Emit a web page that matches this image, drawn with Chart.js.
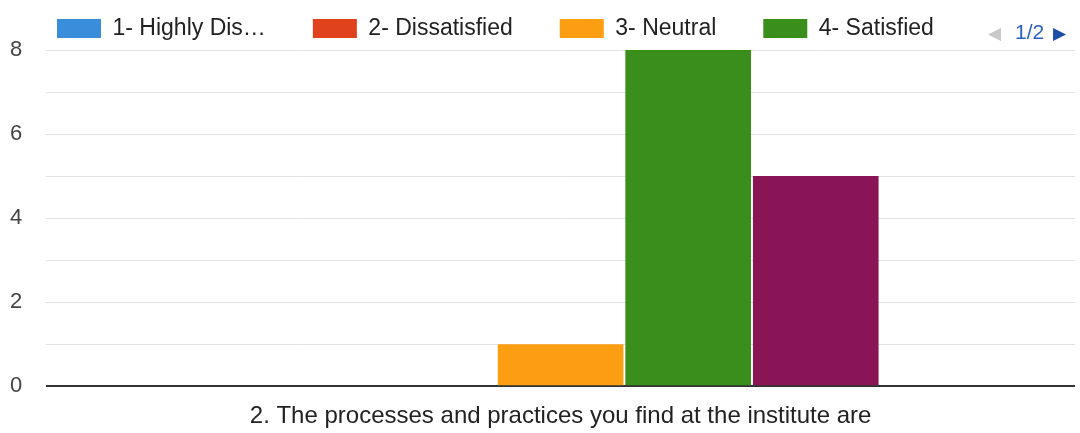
<!DOCTYPE html>
<html>
<head>
<meta charset="utf-8">
<script src="https://cdn.jsdelivr.net/npm/chart.js@4/dist/chart.umd.min.js"></script>
<style>
  html, body { margin: 0; padding: 0; background: #fff; }
  #wrap { position: relative; width: 1080px; height: 433px; }
  #pager { position: absolute; left: 988px; top: 20px; font: 21px "Liberation Sans", Arial, sans-serif; white-space: nowrap; }
  #pager .prev { color: #c9c9c9; font-size: 17px; }
  #pager .page { color: #2a5fc4; margin: 0 9px 0 14px; }
  #pager .next { color: #1b4ea6; font-size: 17px; }
</style>
</head>
<body>
<div id="wrap">
  <canvas id="chart" width="1080" height="433"></canvas>
  <div id="pager"><span class="prev">&#9664;</span><span class="page">1/2</span><span class="next">&#9654;</span></div>
</div>
<script>
// Données
const categories = ['2. The processes and practices you find at the institute are'];
const seriesLabels = ['1- Highly Dissatisfied', '2- Dissatisfied', '3- Neutral', '4- Satisfied', '5- Highly Satisfied'];
const seriesValues = [0, 0, 1, 8, 5];
const seriesColors = ['#3a8ddb', '#e0421d', '#fb9e12', '#3a8e1c', '#8a1556'];
const yTicks = [0, 2, 4, 6, 8];

const datasets = seriesLabels.map((label, i) => ({
  label: label,
  data: [seriesValues[i]],
  backgroundColor: seriesColors[i],
  borderWidth: 0,
}));

const ctx = document.getElementById('chart').getContext('2d');

new Chart(ctx, {
  type: 'bar',
  data: { labels: categories, datasets: datasets },
  options: {
    responsive: false,
    animation: false,
    layout: { padding: { left: 10, right: 5, top: -30, bottom: -14 } },
    datasets: { bar: { categoryPercentage: 0.62, barPercentage: 0.985 } },
    plugins: {
      tooltip: { enabled: false },
      legend: {
        display: true,
        position: 'top',
        align: 'start',
        labels: {
          boxWidth: 44,
          boxHeight: 19,
          padding: 47,
          color: '#222',
          font: { family: '"Liberation Sans", Arial, sans-serif', size: 23 },
          // seule la première page de la légende est visible (1/2)
          filter: (item) => item.datasetIndex < 4,
          generateLabels: (chart) => {
            const items = Chart.defaults.plugins.legend.labels.generateLabels(chart);
            items.forEach(it => {
              if (it.text.length > 16) it.text = it.text.slice(0, 13) + '…';
              it.lineWidth = 0;
            });
            return items;
          },
        },
      },
    },
    scales: {
      x: {
        grid: { display: false, drawTicks: false },
        border: { display: false },
        ticks: {
          color: '#222',
          padding: 16,
          font: { family: '"Liberation Sans", Arial, sans-serif', size: 24 },
        },
      },
      y: {
        min: 0,
        max: 8,
        border: { display: false },
        grid: {
          drawTicks: false,
          color: (c) => c.tick.value === 0 ? '#333' : '#e2e2e2',
          lineWidth: (c) => c.tick.value === 0 ? 2 : 1,
        },
        ticks: {
          stepSize: 1,
          padding: 12,
          crossAlign: 'far',
          color: '#444',
          font: { family: '"Liberation Sans", Arial, sans-serif', size: 22 },
          callback: (v) => yTicks.includes(v) ? v : '',
        },
      },
    },
  },
});
</script>
</body>
</html>
